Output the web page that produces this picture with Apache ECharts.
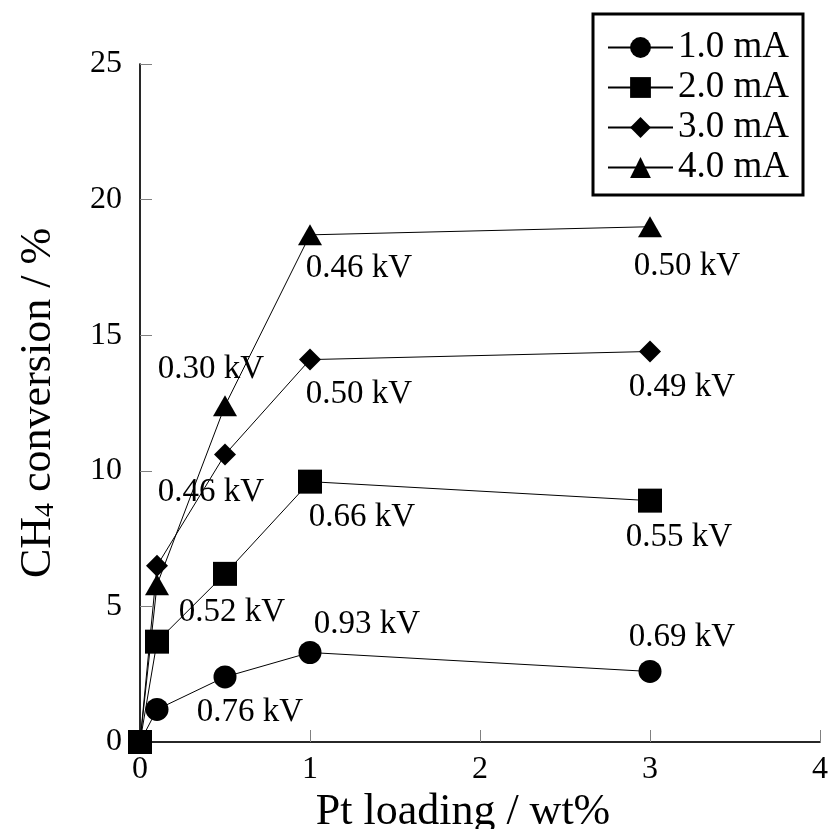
<!DOCTYPE html>
<html>
<head>
<meta charset="utf-8">
<script src="https://cdn.jsdelivr.net/npm/echarts@6/dist/echarts.min.js"></script>
<style>html,body{margin:0;padding:0;background:#fff}#c{width:830px;height:829px}</style>
</head>
<body>
<div id="c"></div>
<script>
const xValues = [0, 0.1, 0.5, 1, 3];
const seriesNames = ['1.0 mA', '2.0 mA', '3.0 mA', '4.0 mA'];
const conv1mA = [0, 1.2, 2.4, 3.3, 2.6];
const conv2mA = [0, 3.7, 6.2, 9.6, 8.9];
const conv3mA = [0, 6.5, 10.6, 14.1, 14.4];
const conv4mA = [0, 5.8, 12.4, 18.7, 19.0];
const volt1mA = [null, null, '0.76 kV', '0.93 kV', '0.69 kV'];
const volt2mA = [null, null, '0.52 kV', '0.66 kV', '0.55 kV'];
const volt3mA = [null, null, '0.46 kV', '0.50 kV', '0.49 kV'];
const volt4mA = [null, null, '0.30 kV', '0.46 kV', '0.50 kV'];
const xTicks = [0, 1, 2, 3, 4];
const yTicks = [0, 5, 10, 15, 20, 25];

// label offsets (style only)
const off1 = [null, null, [25, 35], [57, -28], [32, -34]];
const off2 = [null, null, [7, 38], [52, 36], [29, 37]];
const off3 = [null, null, [-14, 38], [49, 35], [32, 36]];
const off4 = [null, null, [-14, -36], [49, 33], [37, 40]];

const FONT = "'Liberation Serif','Times New Roman',serif";

function build(vals, volts, offs) {
  return vals.map((v, i) => {
    const item = { value: [xValues[i], v] };
    if (volts[i]) {
      item.label = {
        show: true, formatter: volts[i], position: 'inside', offset: offs[i],
        fontFamily: FONT, fontSize: 33, color: '#000'
      };
    }
    return item;
  });
}

const symbols = ['circle', 'rect', 'diamond', 'triangle'];
const sizes = [23, 24, 22, [24, 21]];
const dataSets = [
  build(conv1mA, volt1mA, off1),
  build(conv2mA, volt2mA, off2),
  build(conv3mA, volt3mA, off3),
  build(conv4mA, volt4mA, off4)
];

const chart = echarts.init(document.getElementById('c'), null, { renderer: 'canvas' });
chart.setOption({
  animation: false,
  backgroundColor: '#fff',
  textStyle: { fontFamily: FONT },
  grid: { left: 140, right: 10, top: 64, bottom: 87, containLabel: false, outerBoundsMode: 'none' },
  legend: {
    data: seriesNames,
    orient: 'vertical',
    left: 593, top: 14,
    padding: [15, 14, 9, 14],
    itemWidth: 65, itemHeight: 26, itemGap: 3,
    borderColor: '#000', borderWidth: 3, backgroundColor: '#fff',
    textStyle: { fontFamily: FONT, fontSize: 37, color: '#000', lineHeight: 36 },
    z: 10
  },
  xAxis: [{
    type: 'value', min: 0, max: 4, interval: 1,
    name: 'Pt loading / wt%', nameLocation: 'middle', nameGap: 43,
    nameTextStyle: { fontFamily: FONT, fontSize: 44, color: '#000', padding: [0, 34, 0, 0] },
    axisLine: { show: true, lineStyle: { color: '#808080', width: 1.5 } },
    axisTick: { show: true, inside: true, length: 12, lineStyle: { color: '#808080' } },
    axisLabel: { fontFamily: FONT, fontSize: 32, color: '#000', margin: 12,
      formatter: v => xTicks.includes(v) ? String(v) : '' },
    splitLine: { show: false }
  }, {
    type: 'value', min: 0, max: 4, position: 'top',
    axisLine: { show: true, lineStyle: { color: '#000', width: 1.5 } },
    axisTick: { show: false }, axisLabel: { show: false }, splitLine: { show: false }
  }],
  yAxis: [{
    type: 'value', min: 0, max: 25, interval: 5,
    name: '{a|CH}{s|4}{a| conversion / %}', nameLocation: 'middle', nameGap: 80,
    nameTextStyle: {
      color: '#000',
      rich: {
        a: { fontFamily: FONT, fontSize: 44, lineHeight: 60, verticalAlign: 'bottom', color: '#000' },
        s: { fontFamily: FONT, fontSize: 28, lineHeight: 28, verticalAlign: 'bottom', color: '#000' }
      }
    },
    axisLine: { show: true, lineStyle: { color: '#808080', width: 1.5 } },
    axisTick: { show: true, inside: true, length: 12, lineStyle: { color: '#808080' } },
    axisLabel: { fontFamily: FONT, fontSize: 32, color: '#000', margin: 18,
      formatter: v => yTicks.includes(v) ? String(v) : '' },
    splitLine: { show: false }
  }, {
    type: 'value', min: 0, max: 25, position: 'right',
    axisLine: { show: true, lineStyle: { color: '#000', width: 1.5 } },
    axisTick: { show: false }, axisLabel: { show: false }, splitLine: { show: false }
  }],
  series: seriesNames.map((n, k) => ({
    name: n, type: 'line', clip: false,
    symbol: symbols[k], symbolSize: sizes[k],
    z: k === 1 ? 5 : 2,
    itemStyle: { color: '#000' },
    lineStyle: { color: '#000', width: 1 },
    data: dataSets[k]
  }))
});
</script>
</body>
</html>
